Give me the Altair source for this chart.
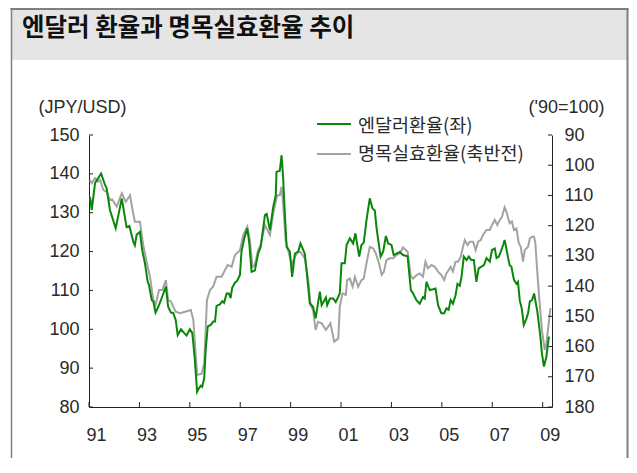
import altair as alt
import pandas as pd

# ---------------- data ----------------
title_text = "엔달러 환율과 명목실효환율 추이"
series_names = ["엔달러환율(좌)", "명목실효환율(축반전)"]
left_title = "(JPY/USD)"
right_title = "('90=100)"

yen_year = [
    1991.04, 1991.11, 1991.24, 1991.48, 1991.61, 1991.70, 1991.83, 1992.06, 1992.30, 1992.49, 1992.60, 1992.76, 1992.82, 1992.89,
    1993.02, 1993.11, 1993.22, 1993.33, 1993.38, 1993.49, 1993.55, 1993.64, 1993.75, 1993.91, 1994.05, 1994.14, 1994.25, 1994.34, 1994.44, 1994.52, 1994.65, 1994.78, 1994.87,
    1995.00, 1995.10, 1995.20, 1995.29, 1995.36, 1995.44, 1995.49, 1995.57, 1995.63, 1995.71, 1995.84, 1995.93, 1996.00, 1996.06, 1996.19, 1996.29, 1996.36, 1996.46, 1996.55, 1996.62, 1996.68, 1996.79, 1996.88, 1996.99,
    1997.05, 1997.16, 1997.28, 1997.36, 1997.45, 1997.58, 1997.71, 1997.81, 1997.98, 1998.05, 1998.18, 1998.31, 1998.41, 1998.44, 1998.57, 1998.64, 1998.70, 1998.77, 1998.84, 1998.97,
    1999.06, 1999.17, 1999.30, 1999.39, 1999.56, 1999.63, 1999.76, 1999.89, 1999.99, 2000.16, 2000.23, 2000.40, 2000.45, 2000.56, 2000.69, 2000.79, 2000.95,
    2001.02, 2001.15, 2001.22, 2001.35, 2001.48, 2001.57, 2001.72, 2001.81, 2001.90, 2002.01, 2002.14, 2002.25, 2002.34, 2002.41, 2002.57, 2002.67, 2002.78, 2002.87,
    2003.00, 2003.09, 2003.20, 2003.33, 2003.46, 2003.64, 2003.77, 2003.86, 2003.99, 2004.12, 2004.25, 2004.32, 2004.39, 2004.52, 2004.65, 2004.75, 2004.85, 2004.98,
    2005.09, 2005.18, 2005.27, 2005.35, 2005.44, 2005.54, 2005.62, 2005.71, 2005.78, 2005.87, 2005.98, 2006.07, 2006.17, 2006.27, 2006.37, 2006.46, 2006.57, 2006.67, 2006.77, 2006.90, 2006.99,
    2007.10, 2007.17, 2007.26, 2007.34, 2007.43, 2007.49, 2007.56, 2007.63, 2007.69, 2007.76, 2007.86, 2007.96, 2008.02, 2008.09, 2008.18, 2008.25, 2008.36, 2008.42, 2008.49, 2008.58, 2008.66, 2008.79, 2008.91, 2008.97, 2009.05, 2009.15, 2009.21, 2009.25,
]
yen_value = [
    134.1, 130.7, 137.6, 140.1, 137.6, 136.3, 130.7, 126.0, 133.7, 126.3, 126.6, 122.5, 121.6, 124.3,
    125.1, 120.4, 117.0, 112.2, 111.4, 107.5, 107.2, 104.3, 105.8, 108.5, 111.0, 105.8, 104.3, 104.2, 102.4, 98.5, 100.0, 99.0, 98.4,
    100.0, 99.0, 92.1, 83.9, 84.8, 85.5, 85.2, 87.4, 94.7, 100.7, 101.2, 102.0, 102.0, 106.0, 106.4, 107.2, 106.8, 109.2, 109.2, 108.0, 110.7, 112.0, 112.5, 114.0,
    120.0, 123.4, 126.0, 122.1, 114.8, 115.1, 119.5, 121.1, 129.4, 129.7, 125.5, 131.5, 134.5, 140.5, 140.8, 144.8, 139.3, 129.8, 121.2, 120.0,
    113.5, 119.5, 120.0, 122.1, 119.5, 115.3, 106.7, 105.8, 102.8, 109.7, 106.2, 108.2, 106.2, 107.9, 107.9, 107.0, 109.2,
    117.0, 117.0, 121.7, 123.4, 122.1, 124.7, 118.7, 121.7, 122.3, 128.1, 133.7, 131.1, 130.6, 126.0, 118.7, 120.0, 124.0, 122.1,
    121.7, 119.1, 119.5, 119.9, 119.1, 118.8, 110.1, 109.2, 107.5, 106.6, 108.3, 107.9, 112.2, 110.1, 110.3, 110.5, 106.2, 104.1,
    104.1, 105.4, 105.0, 107.5, 106.6, 108.7, 111.7, 111.2, 113.5, 118.7, 117.8, 118.7, 117.8, 117.8, 112.2, 115.7, 116.1, 116.5, 118.3, 117.4, 120.4,
    120.8, 118.3, 118.7, 120.0, 121.7, 123.0, 120.8, 118.3, 116.5, 116.1, 112.7, 111.7, 112.2, 107.5, 105.0, 101.1, 102.8, 104.1, 107.2, 107.5, 109.2, 104.5, 98.1, 93.8, 90.4, 93.0, 96.4, 98.1,
]

neer_year = [
    1991.04, 1991.11, 1991.24, 1991.37, 1991.44, 1991.57, 1991.70, 1991.83, 1991.92, 1992.10, 1992.30, 1992.46, 1992.63, 1992.72, 1992.82,
    1993.02, 1993.15, 1993.33, 1993.42, 1993.55, 1993.64, 1993.78, 1993.91, 1994.05, 1994.14, 1994.25, 1994.44, 1994.61, 1994.81,
    1995.04, 1995.14, 1995.29, 1995.47, 1995.57, 1995.68, 1995.80, 1995.93, 1996.06, 1996.26, 1996.50, 1996.66, 1996.79, 1996.99,
    1997.12, 1997.28, 1997.38, 1997.49, 1997.58, 1997.71, 1997.81, 1997.98, 1998.11, 1998.18, 1998.31, 1998.47, 1998.57, 1998.64, 1998.70, 1998.80, 1998.90,
    1999.04, 1999.17, 1999.30, 1999.39, 1999.56, 1999.70, 1999.79, 1999.89, 1999.99, 2000.09, 2000.23, 2000.40, 2000.49, 2000.58, 2000.73, 2000.89, 2000.95,
    2001.06, 2001.19, 2001.24, 2001.35, 2001.46, 2001.55, 2001.68, 2001.81, 2001.90, 2002.01, 2002.14, 2002.27, 2002.38, 2002.51, 2002.61, 2002.70, 2002.80, 2002.93,
    2003.07, 2003.20, 2003.33, 2003.46, 2003.64, 2003.77, 2003.86, 2003.99, 2004.12, 2004.25, 2004.35, 2004.45, 2004.59, 2004.72, 2004.85, 2004.98,
    2005.09, 2005.18, 2005.27, 2005.35, 2005.44, 2005.54, 2005.64, 2005.75, 2005.84, 2005.91, 2006.02, 2006.11, 2006.24, 2006.34, 2006.44, 2006.54, 2006.63, 2006.77, 2006.90, 2006.99,
    2007.10, 2007.20, 2007.30, 2007.39, 2007.49, 2007.56, 2007.63, 2007.69, 2007.78, 2007.86, 2007.96, 2008.05, 2008.13, 2008.22, 2008.29, 2008.42, 2008.49, 2008.58, 2008.66, 2008.71, 2008.79, 2008.88, 2008.97, 2009.08, 2009.15, 2009.24, 2009.31,
]
neer_value = [
    104.9, 106.0, 104.3, 105.4, 104.9, 108.2, 108.8, 111.5, 111.3, 113.7, 109.3, 112.1, 109.9, 114.5, 118.7,
    118.7, 126.4, 133.6, 136.9, 144.6, 146.3, 141.3, 141.3, 138.0, 144.6, 145.1, 148.5, 149.0, 148.5,
    147.9, 151.2, 169.4, 169.0, 165.5, 144.6, 141.3, 140.1, 136.9, 136.9, 133.0, 133.6, 129.7, 128.1,
    123.1, 120.3, 124.7, 133.6, 133.0, 128.1, 126.4, 119.8, 122.0, 123.1, 115.9, 109.9, 109.9, 107.1, 112.6, 124.7, 128.1,
    133.0, 130.3, 128.7, 128.7, 130.8, 138.0, 146.3, 147.9, 154.5, 151.8, 152.3, 154.5, 153.4, 152.3, 158.4, 157.3, 146.8,
    142.4, 142.9, 138.0, 137.5, 140.2, 137.0, 140.2, 138.0, 137.5, 132.5, 127.0, 127.5, 129.2, 132.5, 136.3, 135.3, 131.4, 130.8,
    130.8, 129.7, 129.2, 127.2, 128.6, 136.9, 137.5, 136.4, 135.8, 136.9, 131.9, 134.1, 133.0, 133.6, 135.2, 136.3,
    138.0, 135.8, 134.7, 133.6, 135.2, 131.9, 131.9, 130.3, 127.0, 124.8, 126.4, 125.3, 125.3, 128.1, 125.3, 124.8, 123.1, 121.4, 121.4, 119.8,
    118.1, 119.8, 118.1, 117.0, 113.9, 115.3, 117.5, 119.2, 118.6, 121.4, 120.9, 125.8, 127.0, 131.9, 128.1, 127.0, 124.2, 123.7, 123.7, 125.8, 135.8, 145.7, 154.5, 161.1, 158.9, 152.3, 147.3,
]

left_ticks = [80, 90, 100, 110, 120, 130, 140, 150]
right_ticks = [90, 100, 110, 120, 130, 140, 150, 160, 170, 180]
year_ticks = [1991, 1993, 1995, 1997, 1999, 2001, 2003, 2005, 2007, 2009]

assert len(yen_year) == len(yen_value)
assert len(neer_year) == len(neer_value)

# ---------------- styling ----------------
W, H = 463, 272
PAD_L, PAD_T, PAD_R, PAD_B = 81, 127, 77, 51
GREEN = "#0a870a"
GRAY = "#a3a3a3"
AX = "#222222"
TXT = "#2a2a2a"
NUM_FONT = "Liberation Sans"
KR_FONT = "Noto Sans CJK KR"
FRAME = "#7f7f7f"
BAND = "#e5e5e5"
RIGHT_EDGE = W + PAD_R - 1.5   # right frame line, just inside the canvas

yen_df = pd.DataFrame({"year": yen_year, "value": yen_value})
neer_df = pd.DataFrame({"year": neer_year, "value": neer_value})

x_scale = alt.Scale(domain=[1991, 2009.37], nice=False, zero=False)
yl_scale = alt.Scale(domain=[80, 150], nice=False, zero=False)
yr_scale = alt.Scale(domain=[90, 180], nice=False, zero=False, reverse=True)

x_axis = alt.Axis(
    values=year_ticks, labelExpr="substring(toString(datum.value), 2, 4)",
    ticks=False, grid=False, domainColor=AX, domainWidth=1,
    labelFont=NUM_FONT, labelFontSize=18, labelColor=TXT,
    labelPadding=19, labelOffset=7, labelFlush=False, labelOverlap=False, title=None,
)
yl_axis = alt.Axis(
    values=left_ticks, ticks=False, grid=False, domainColor=AX, domainWidth=1,
    labelFont=NUM_FONT, labelFontSize=18, labelColor=TXT, labelPadding=10,
    labelFlush=False, labelOverlap=False,
    title=left_title, titleAngle=0, titleX=-51, titleY=-28, titleAlign="left",
    titleBaseline="middle", titleFont=NUM_FONT, titleFontSize=18,
    titleFontWeight="normal", titleColor=TXT,
)
yr_axis = alt.Axis(
    orient="right", values=right_ticks, ticks=False, grid=False, domainColor=AX, domainWidth=1,
    labelFont=NUM_FONT, labelFontSize=18, labelColor=TXT, labelPadding=12,
    labelFlush=False, labelOverlap=False,
    title=right_title, titleAngle=0, titleX=-24, titleY=-28, titleAlign="left",
    titleBaseline="middle", titleFont=NUM_FONT, titleFontSize=18,
    titleFontWeight="normal", titleColor=TXT,
)

one = alt.Data(values=[{}])

# decorations: frame and title band
band = alt.Chart(one).mark_rect(color=BAND).encode(
    x=alt.value(-77), x2=alt.value(RIGHT_EDGE), y=alt.value(-125), y2=alt.value(-75))
frame_top = alt.Chart(one).mark_rule(color=FRAME, strokeWidth=2).encode(
    x=alt.value(-78.5), x2=alt.value(RIGHT_EDGE + 1), y=alt.value(-126))
frame_left = alt.Chart(one).mark_rule(color=FRAME, strokeWidth=1.5).encode(
    x=alt.value(-77.5), y=alt.value(-127), y2=alt.value(340))
frame_right = alt.Chart(one).mark_rule(color=FRAME, strokeWidth=2).encode(
    x=alt.value(RIGHT_EDGE), y=alt.value(-127), y2=alt.value(340))
title = alt.Chart(one).mark_text(
    text=title_text, font=KR_FONT, fontSize=24.5, fontWeight="bold", color="#111111",
    align="left", baseline="middle").encode(x=alt.value(-67), y=alt.value(-106))

# data lines
yen_line = alt.Chart(yen_df).mark_line(color=GREEN, strokeWidth=2).encode(
    x=alt.X("year:Q", scale=x_scale, axis=x_axis),
    y=alt.Y("value:Q", scale=yl_scale, axis=yl_axis),
)
neer_line = alt.Chart(neer_df).mark_line(color=GRAY, strokeWidth=2).encode(
    x=alt.X("year:Q", scale=x_scale, axis=x_axis),
    y=alt.Y("value:Q", scale=yr_scale, axis=yr_axis),
)

# inward ticks (share the scales and axes of the lines)
lt = alt.Chart(pd.DataFrame({"value": left_ticks})).mark_rule(color=AX, strokeWidth=1).encode(
    y=alt.Y("value:Q", scale=yl_scale, axis=yl_axis), x=alt.value(0), x2=alt.value(4))
rt = alt.Chart(pd.DataFrame({"value": right_ticks})).mark_rule(color=AX, strokeWidth=1).encode(
    y=alt.Y("value:Q", scale=yr_scale, axis=yr_axis), x=alt.value(W - 4), x2=alt.value(W))
xt = alt.Chart(pd.DataFrame({"year": year_ticks})).mark_rule(color=AX, strokeWidth=1).encode(
    x=alt.X("year:Q", scale=x_scale, axis=x_axis), y=alt.value(H - 5), y2=alt.value(H))

# legend
leg1_line = alt.Chart(one).mark_rule(color=GREEN, strokeWidth=2).encode(
    x=alt.value(228), x2=alt.value(262), y=alt.value(-11))
leg2_line = alt.Chart(one).mark_rule(color=GRAY, strokeWidth=2).encode(
    x=alt.value(228), x2=alt.value(262), y=alt.value(19))
leg1_text = alt.Chart(one).mark_text(
    text=series_names[0], font=KR_FONT, fontSize=18.5, color=TXT, align="left", baseline="middle"
).encode(x=alt.value(269), y=alt.value(-9))
leg2_text = alt.Chart(one).mark_text(
    text=series_names[1], font=KR_FONT, fontSize=18.5, color=TXT, align="left", baseline="middle"
).encode(x=alt.value(269), y=alt.value(19))

chart = alt.layer(
    band, frame_top, frame_left, frame_right, title,
    alt.layer(neer_line, rt),
    alt.layer(yen_line, lt),
    xt, leg1_line, leg2_line, leg1_text, leg2_text,
).resolve_scale(y="independent").properties(
    width=W, height=H,
    padding={"left": PAD_L, "top": PAD_T, "right": PAD_R, "bottom": PAD_B},
    autosize=alt.AutoSizeParams(type="none"),
    background="white",
).configure_view(strokeWidth=0)

chart.save("out.html", embed_options={"renderer": "svg", "actions": False})
